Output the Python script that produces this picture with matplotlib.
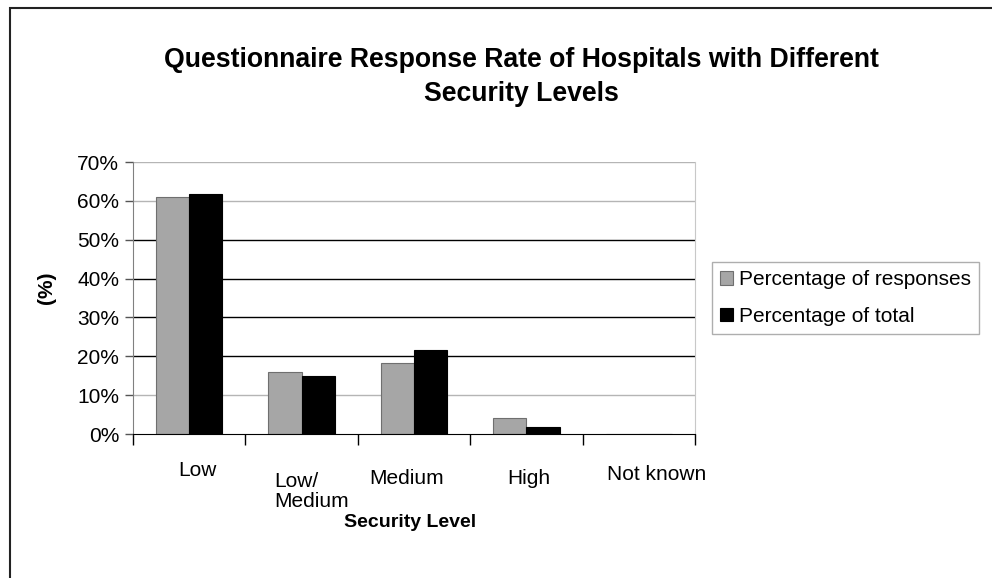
import matplotlib
matplotlib.use("Agg")
import matplotlib.pyplot as plt
from matplotlib.patches import Rectangle
from matplotlib.transforms import ScaledTranslation
import numpy as np

plt.rcParams['font.family'] = ['Liberation Sans', 'DejaVu Sans']

categories = ["Low", "Low/\nMedium", "Medium", "High", "Not known"]
pct_responses = [61.1, 15.9, 18.4, 4.0, 0.0]
pct_total = [61.7, 14.9, 21.6, 1.8, 0.0]
series_names = ["Percentage of responses", "Percentage of total"]
y_ticks = [0, 10, 20, 30, 40, 50, 60, 70]
title = "Questionnaire Response Rate of Hospitals with Different\nSecurity Levels"

W, H = 992, 578
fig = plt.figure(figsize=(W / 100, H / 100), dpi=100)

# outer chart frame (runs past the right and bottom edges)
fig.patches.append(Rectangle((10 / W, -0.1), 1.2, 1.1 - 8 / H,
                             transform=fig.transFigure, fill=False,
                             edgecolor="#222222", linewidth=1.5, clip_on=False))

ax = fig.add_axes([133 / W, 144 / H, 562 / W, 272 / H])

x = np.arange(len(categories))
bw = 0.295
ax.bar(x - bw / 2, pct_responses, bw, color="#a6a6a6", edgecolor="#6f6f6f",
       linewidth=0.8, label=series_names[0], zorder=3)
ax.bar(x + bw / 2, pct_total, bw, color="#000000", edgecolor="#000000",
       linewidth=0.8, label=series_names[1], zorder=3)

ax.set_xlim(-0.5, len(categories) - 0.5)
ax.set_ylim(0, 70)
ax.set_yticks(y_ticks)
ax.set_yticklabels([f"{v}%" for v in y_ticks], fontsize=15)
ax.tick_params(axis="y", length=6, width=1, color="#555555", pad=4)

ax.set_xticks(x)
ax.set_xticklabels(categories, fontsize=15, ha="left", va="top", linespacing=1.1)
ax.set_xticks(np.arange(len(categories) + 1) - 0.5, minor=True)
ax.tick_params(axis="x", which="major", length=0, pad=22)
ax.tick_params(axis="x", which="minor", length=8, width=1, color="black")

# per-label pixel nudges (dx right, dy up)
offsets = [(-10.7, 4), (-27.7, -7), (-45.1, -4), (-18.9, -4), (-32.0, 0)]
for lbl, (dx, dy) in zip(ax.get_xticklabels(), offsets):
    lbl.set_transform(lbl.get_transform() +
                      ScaledTranslation(dx / 100, dy / 100, fig.dpi_scale_trans))

# horizontal gridlines
for v in y_ticks[1:]:
    col = "#b5b5b5" if v in (10, 60, 70) else "black"
    ax.axhline(v, color=col, linewidth=1, zorder=1)

ax.spines["left"].set_color("#808080")
ax.spines["bottom"].set_color("black")
ax.spines["bottom"].set_zorder(4)
ax.spines["right"].set_color("#c8c8c8")
ax.spines["top"].set_visible(False)

ax.set_ylabel("(%)", fontsize=15, fontweight="bold")
ax.yaxis.set_label_coords(-(133 - 56) / 562, (434 - 288) / 272)
ax.set_xlabel("Security Level", fontsize=14, fontweight="bold")
ax.xaxis.set_label_coords((410 - 133) / 562, -(514 - 434) / 272)

fig.text((162 + 880) / 2 / W, 1 - 77 / H, title, ha="center", va="center",
         fontsize=19.2, fontweight="bold", linespacing=1.38)

leg = ax.legend(loc="upper left", bbox_to_anchor=(712 / W, 1 - 262 / H),
                bbox_transform=fig.transFigure, fontsize=15, frameon=True,
                fancybox=False, edgecolor="#9a9a9a", handlelength=0.6,
                handleheight=0.6, handletextpad=0.3, labelspacing=0.84,
                borderpad=0.4, borderaxespad=0)
leg.get_frame().set_linewidth(1)

fig.savefig("out.png", dpi=100, facecolor="white")
